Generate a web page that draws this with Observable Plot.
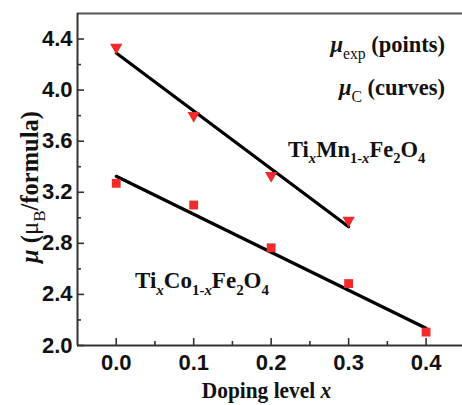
<!DOCTYPE html>
<html><head><meta charset="utf-8">
<script src="https://cdn.jsdelivr.net/npm/d3@7"></script>
<script src="https://cdn.jsdelivr.net/npm/@observablehq/plot@0.6"></script>
<style>body{margin:0;background:#fff}</style>
</head><body><div id="chart"></div>
<script>
// ---- data ----
const dopingMn = [0.0, 0.1, 0.2, 0.3];
const muExpMn  = [4.335, 3.80, 3.33, 2.98];
const dopingCo = [0.0, 0.1, 0.2, 0.3, 0.4];
const muExpCo  = [3.27, 3.10, 2.765, 2.485, 2.105];
const curveMnX = [0.0, 0.3];
const curveMnY = [4.29, 2.93];
const curveCoX = [0.0, 0.4];
const curveCoY = [3.325, 2.135];
const xTicks = [0.0, 0.1, 0.2, 0.3, 0.4];
const xMinorTicks = [0.05, 0.15, 0.25, 0.35];
const yTicks = [2.0, 2.4, 2.8, 3.2, 3.6, 4.0, 4.4];
const yMinorTicks = [2.2, 2.6, 3.0, 3.4, 3.8, 4.2];
const xDomain = [-0.05, 0.447];
const yDomain = [2.0, 4.6];

const SERIF = "Liberation Serif, Times New Roman, serif";
const SANS = "Liberation Sans, Arial, sans-serif";
const RED = "#ef2b2b";

// rich text helper: parts = [{t, sub, it, w}]
function richText(parts, pos, {size = 22, anchor = "start", rotate = 0, sx = 1, subScale = 0.65, subShift = 0.3} = {}) {
  return (index, scales, values, dims) => {
    const [px, py] = pos(scales, dims);
    const g = d3.create("svg:g").attr("transform", `translate(${px},${py}) rotate(${rotate}) scale(${sx},1)`);
    const t = g.append("text")
      .attr("font-family", SERIF).attr("font-size", size).attr("font-weight", "bold")
      .attr("fill", "#111").attr("text-anchor", anchor);
    let cur = 0;
    for (const p of parts) {
      const target = p.sub ? size * subShift : 0;
      const ts = t.append("tspan").text(p.t)
        .attr("font-size", p.sub ? size * subScale : size);
      if (target !== cur) ts.attr("dy", target - cur);
      if (p.it) ts.attr("font-style", "italic");
      if (p.w) ts.attr("font-weight", p.w);
      cur = target;
    }
    return g.node();
  };
}
const at = (x, y) => ({x: X, y: Y}) => [X(x), Y(y)];

const tickStyle = {stroke: "#333", strokeWidth: 1.6, tickFormat: () => "", label: null};

const chart = Plot.plot({
  width: 462, height: 405,
  marginLeft: 77, marginRight: 0, marginTop: 13, marginBottom: 60,
  x: {domain: xDomain},
  y: {domain: yDomain},
  style: {background: "#fff"},
  marks: [
    // frame
    Plot.ruleY([yDomain[1]], {stroke: "#555", strokeWidth: 2}),
    Plot.ruleX([xDomain[0]], {stroke: "#333", strokeWidth: 2}),
    Plot.ruleY([yDomain[0]], {stroke: "#333", strokeWidth: 2}),
    // inward ticks
    Plot.axisX(xTicks, {...tickStyle, tickSize: -7}),
    Plot.axisX(xMinorTicks, {...tickStyle, tickSize: -4}),
    Plot.axisY(yTicks, {...tickStyle, tickSize: -7}),
    Plot.axisY(yMinorTicks, {...tickStyle, tickSize: -4}),
    // tick labels
    Plot.axisX(xTicks, {tickSize: 0, tickPadding: 9, tickFormat: d3.format(".1f"), label: null,
      fontSize: 22, fontWeight: "bold", fontFamily: SANS, fill: "#111"}),
    Plot.axisY(yTicks, {tickSize: 0, tickPadding: 5, tickFormat: d3.format(".1f"), label: null,
      fontSize: 22, fontWeight: "bold", fontFamily: SANS, fill: "#111"}),
    // curves
    Plot.line(curveMnX, {x: curveMnX, y: curveMnY, stroke: "#000", strokeWidth: 3.2}),
    Plot.line(curveCoX, {x: curveCoX, y: curveCoY, stroke: "#000", strokeWidth: 3.2}),
    // points
    Plot.dot(dopingMn, {x: dopingMn, y: muExpMn, symbol: "triangle", rotate: 180, r: 4.6, fill: RED, stroke: "none"}),
    Plot.dot(dopingCo, {x: dopingCo, y: muExpCo, symbol: "square", r: 5.0, fill: RED, stroke: "none"}),
    // annotations
    richText([{t: "Ti"}, {t: "x", sub: true, it: true}, {t: "Mn"}, {t: "1-", sub: true}, {t: "x", sub: true, it: true},
      {t: "Fe"}, {t: "2", sub: true}, {t: "O"}, {t: "4", sub: true}], at(0.2224, 3.4746), {size: 22.5}),
    richText([{t: "Ti"}, {t: "x", sub: true, it: true}, {t: "Co"}, {t: "1-", sub: true}, {t: "x", sub: true, it: true},
      {t: "Fe"}, {t: "2", sub: true}, {t: "O"}, {t: "4", sub: true}], at(0.0249, 2.444), {size: 23}),
    richText([{t: "μ", it: true}, {t: "exp", sub: true, w: "normal"}, {t: " (points)"}], at(0.4251, 4.2945),
      {size: 22.5, anchor: "end", subScale: 0.7, subShift: 0.32}),
    richText([{t: "μ", it: true}, {t: "C", sub: true, w: "normal"}, {t: " (curves)"}], at(0.4251, 3.958),
      {size: 22.5, anchor: "end", subScale: 0.7, subShift: 0.32}),
    // axis labels
    richText([{t: "Doping level "}, {t: "x", it: true}],
      (s, d) => [(d.marginLeft + d.width - d.marginRight) / 2 - 3, d.height - 7], {size: 23.5, sx: 0.91, anchor: "middle"}),
    richText([{t: "μ", it: true}, {t: " ("}, {t: "μ", w: "normal"}, {t: "B", sub: true, w: "normal"}, {t: "/formula)"}],
      (s, d) => [38, (d.marginTop + d.height - d.marginBottom) / 2 + 8], {size: 24.5, anchor: "middle", rotate: -90, subScale: 0.7})
  ]
});
document.getElementById("chart").appendChild(chart);
</script>
</body></html>
